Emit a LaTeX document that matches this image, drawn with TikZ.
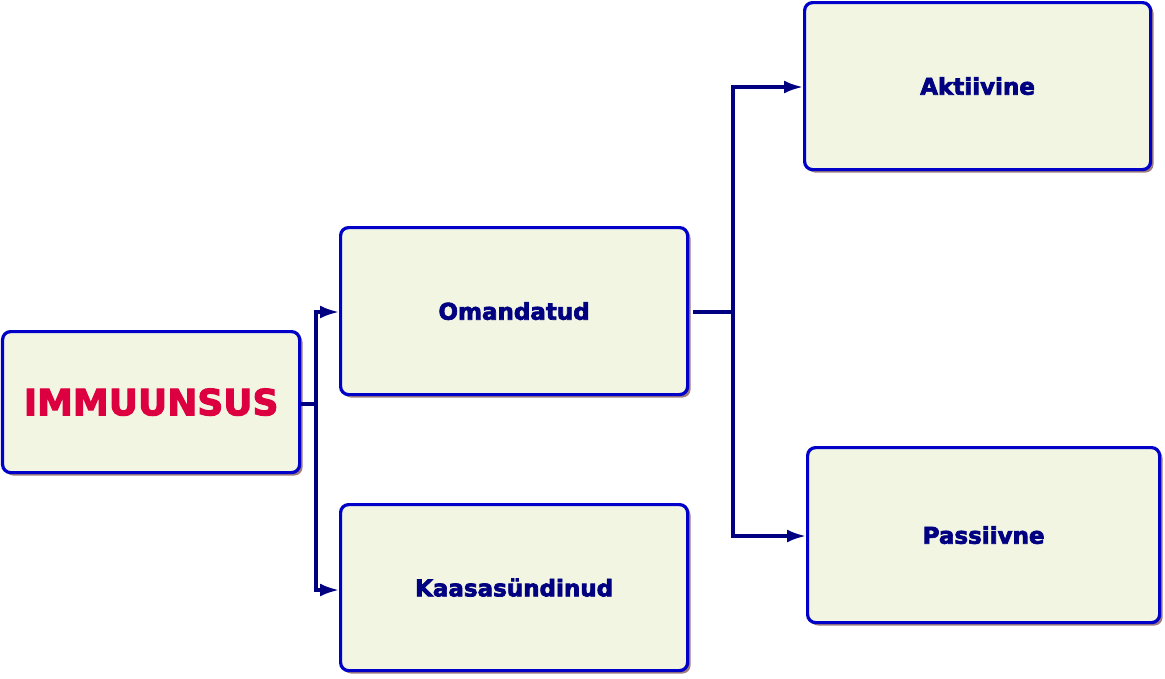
\documentclass[tikz,border=0pt]{standalone}
\usepackage{fontspec}
\setmainfont{DejaVu Sans}[BoldFeatures={FakeBold=3}]
\usetikzlibrary{arrows.meta}
\definecolor{boxborder}{HTML}{0000C8}
\definecolor{boxfill}{HTML}{F1F5E2}
\definecolor{boxshadow}{HTML}{A07C7C}
\definecolor{navy}{HTML}{000080}
\definecolor{redtxt}{HTML}{DC0040}
\tikzset{
  x=1pt, y=-1pt,
  mybox/.style={draw=boxborder, line width=3.2pt, fill=boxfill, rounded corners=8pt,
    inner sep=0pt, font=\bfseries\fontsize{23}{27}\selectfont, text=navy},
  shadowbox/.style={fill=boxshadow, rounded corners=8pt, draw=none},
  conn/.style={draw=navy, line width=3.2pt},
  arr/.style={conn, -{Latex[length=19pt,width=13pt]}}
}
\begin{document}
\begin{tikzpicture}
\useasboundingbox (0,0) rectangle (1165,678);
% shadows
\fill[shadowbox] (5,334) rectangle (302.5,475.5);
\fill[shadowbox] (343,230) rectangle (690.5,397.5);
\fill[shadowbox] (343,507) rectangle (690.5,673.5);
\fill[shadowbox] (807,5) rectangle (1153.5,172.5);
\fill[shadowbox] (810,450) rectangle (1162.5,625.5);
% boxes
\node[mybox, minimum width=297pt, minimum height=141pt, anchor=north west,
  text=redtxt, font=\bfseries\fontsize{36}{40}\selectfont] (imm) at (1,330) {IMMUUNSUS};
\node[mybox, minimum width=347pt, minimum height=167pt, anchor=north west] (oma) at (339,226) {Omandatud};
\node[mybox, minimum width=347pt, minimum height=166pt, anchor=north west] (kaa) at (339,503) {Kaasasündinud};
\node[mybox, minimum width=346pt, minimum height=167pt, anchor=north west] (akt) at (803,1) {Aktiivine};
\node[mybox, minimum width=352pt, minimum height=175pt, anchor=north west] (pas) at (806,446) {Passiivne};
% connectors
\coordinate (j1) at (316,404);
\coordinate (j2) at (733,312);
\coordinate (t1) at (339,312);
\coordinate (t2) at (339,590);
\coordinate (t3) at (803,87);
\coordinate (t4) at (806,536);
\draw[conn] (imm.east |- j1) -- (j1);
\draw[arr] (j1) |- (t1);
\draw[arr] (j1) |- (t2);
\draw[conn] ([xshift=4pt]oma.east |- j2) -- (j2);
\draw[arr] (j2) |- (t3);
\draw[arr] (j2) |- (t4);
\end{tikzpicture}
\end{document}
